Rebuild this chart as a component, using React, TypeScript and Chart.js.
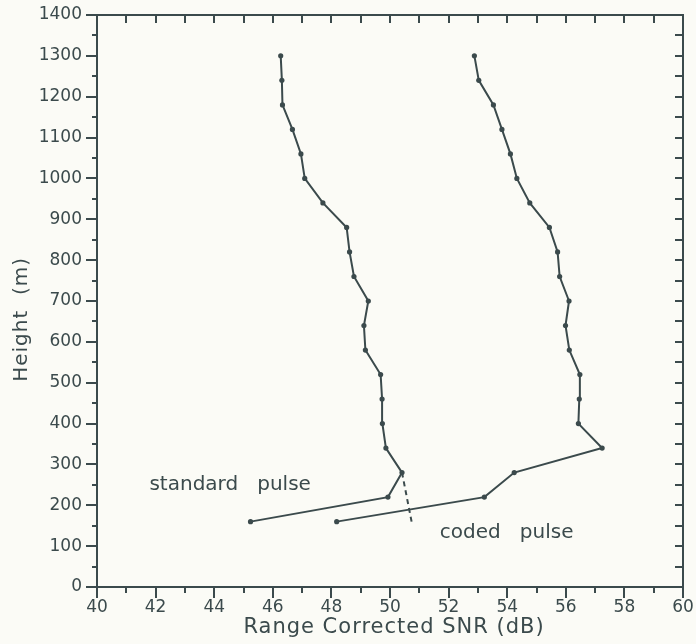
import React, { useEffect, useRef } from "react";
import { Chart, registerables } from "chart.js";

Chart.register(...registerables);

// Heights (m) of the profile points
const heights = [160, 220, 280, 340, 400, 460, 520, 580, 640, 700, 760, 820, 880, 940, 1000, 1060, 1120, 1180, 1240, 1300];
// Range corrected SNR (dB), standard pulse
const standardSNR = [45.24, 49.93, 50.41, 49.86, 49.74, 49.73, 49.68, 49.16, 49.11, 49.26, 48.77, 48.62, 48.52, 47.71, 47.09, 46.96, 46.67, 46.33, 46.31, 46.27];
// Range corrected SNR (dB), coded pulse
const codedSNR = [48.18, 53.22, 54.24, 57.24, 56.43, 56.46, 56.48, 56.12, 55.99, 56.11, 55.79, 55.72, 55.44, 54.77, 54.33, 54.11, 53.82, 53.53, 53.03, 52.88];
// Dashed extrapolation of the standard pulse
const dashedSNR = [50.41, 50.75];
const dashedHeights = [280, 155];
// Text annotations (anchored at their left baseline, in data units)
const annotationTexts = ["standard   pulse", "coded   pulse"];
const annotationSNR = [41.79, 51.7];
const annotationHeights = [237, 120];
// Axis titles
const xTitle = "Range Corrected SNR (dB)";
const yTitle = "Height  (m)";
const yTitleCenterHeight = 655;

const INK = "#3b4a4c";
const BG = "#fbfbf6";
const FONT = "'DejaVu Sans', sans-serif";

const framePlugin = {
  id: "frame",
  afterDraw(chart: any) {
    const { ctx, chartArea: a, scales } = chart;
    const xs = scales.x;
    const ys = scales.y;
    ctx.save();
    ctx.strokeStyle = INK;
    ctx.lineWidth = 2;
    ctx.lineCap = "butt";
    ctx.strokeRect(a.left, a.top, a.right - a.left, a.bottom - a.top);
    ctx.beginPath();
    for (let v = 0; v <= 1400; v += 50) {
      const py = Math.round(ys.getPixelForValue(v));
      const major = v % 100 === 0;
      ctx.moveTo(a.left, py);
      ctx.lineTo(a.left - (major ? 11 : 5), py);
      if (v > 0 && v < 1400) {
        ctx.moveTo(a.right, py);
        ctx.lineTo(a.right - 8, py);
      }
    }
    for (let v = 40; v <= 60; v += 1) {
      const px = Math.round(xs.getPixelForValue(v));
      const major = v % 2 === 0;
      ctx.moveTo(px, a.bottom);
      ctx.lineTo(px, a.bottom + (major ? 11 : 6));
      if (v > 40 && v < 60) {
        ctx.moveTo(px, a.top);
        ctx.lineTo(px, a.top + 8);
      }
    }
    ctx.stroke();
    ctx.fillStyle = INK;
    ctx.font = `20px ${FONT}`;
    ctx.textAlign = "left";
    ctx.textBaseline = "alphabetic";
    annotationTexts.forEach((t, i) => {
      ctx.fillText(t, xs.getPixelForValue(annotationSNR[i]), ys.getPixelForValue(annotationHeights[i]));
    });
    // x-axis title
    ctx.font = `21px ${FONT}`;
    ctx.textAlign = "center";
    ctx.textBaseline = "middle";
    (ctx as any).letterSpacing = "1px";
    ctx.fillText(xTitle, (a.left + a.right) / 2 + 4, 628);
    // y-axis title
    ctx.save();
    ctx.translate(22, ys.getPixelForValue(yTitleCenterHeight));
    ctx.rotate(-Math.PI / 2);
    ctx.font = `20px ${FONT}`;
    ctx.textAlign = "center";
    ctx.textBaseline = "middle";
    (ctx as any).letterSpacing = "1px";
    ctx.fillText(yTitle, 0, 0);
    ctx.restore();
    ctx.restore();
  },
};

const noPad = (s: any) => {
  s.paddingLeft = 0;
  s.paddingRight = 0;
  s.paddingTop = 0;
  s.paddingBottom = 0;
};

export default function App() {
  const canvasRef = useRef<HTMLCanvasElement | null>(null);

  useEffect(() => {
    if (!canvasRef.current) return;
    const toPoints = (xsArr: number[], ysArr: number[]) => xsArr.map((x, i) => ({ x, y: ysArr[i] }));
    const lineStyle = {
      showLine: true,
      borderColor: INK,
      borderWidth: 2,
      pointRadius: 2.6,
      pointBackgroundColor: INK,
      pointBorderWidth: 0,
      tension: 0,
    };
    const chart = new Chart(canvasRef.current, {
      type: "scatter",
      data: {
        datasets: [
          { label: "standard pulse", data: toPoints(standardSNR, heights), ...lineStyle },
          { label: "coded pulse", data: toPoints(codedSNR, heights), ...lineStyle },
          {
            label: "extrapolation",
            data: toPoints(dashedSNR, dashedHeights),
            showLine: true,
            borderColor: INK,
            borderWidth: 2,
            borderDash: [5, 4],
            pointRadius: 0,
            tension: 0,
          },
        ],
      },
      options: {
        animation: false,
        responsive: false,
        layout: { padding: { top: 15, right: 13, left: 0, bottom: 0 } },
        plugins: { legend: { display: false }, tooltip: { enabled: false } },
        scales: {
          x: {
            type: "linear",
            min: 40,
            max: 60,
            grid: { display: false, drawTicks: false },
            border: { display: false },
            ticks: {
              stepSize: 2,
              color: INK,
              font: { family: FONT, size: 17 },
              padding: 10,
              maxRotation: 0,
              autoSkip: false,
              callback: (v: any) => String(v),
            },
            title: { display: false },
            afterFit(s: any) {
              s.height = 57;
              noPad(s);
            },
          },
          y: {
            type: "linear",
            min: 0,
            max: 1400,
            grid: { display: false, drawTicks: false },
            border: { display: false },
            ticks: {
              stepSize: 100,
              color: INK,
              font: { family: FONT, size: 17 },
              padding: 15,
              autoSkip: false,
              callback: (v: any) => String(v),
            },
            title: { display: false },
            afterFit(s: any) {
              s.width = 97;
              noPad(s);
            },
          },
        },
      },
      plugins: [framePlugin],
    });
    return () => chart.destroy();
  }, []);

  return (
    <div style={{ position: "absolute", left: 0, top: 0, width: 696, height: 644, background: BG }}>
      <canvas ref={canvasRef} width={696} height={644} style={{ display: "block" }} />
    </div>
  );
}
